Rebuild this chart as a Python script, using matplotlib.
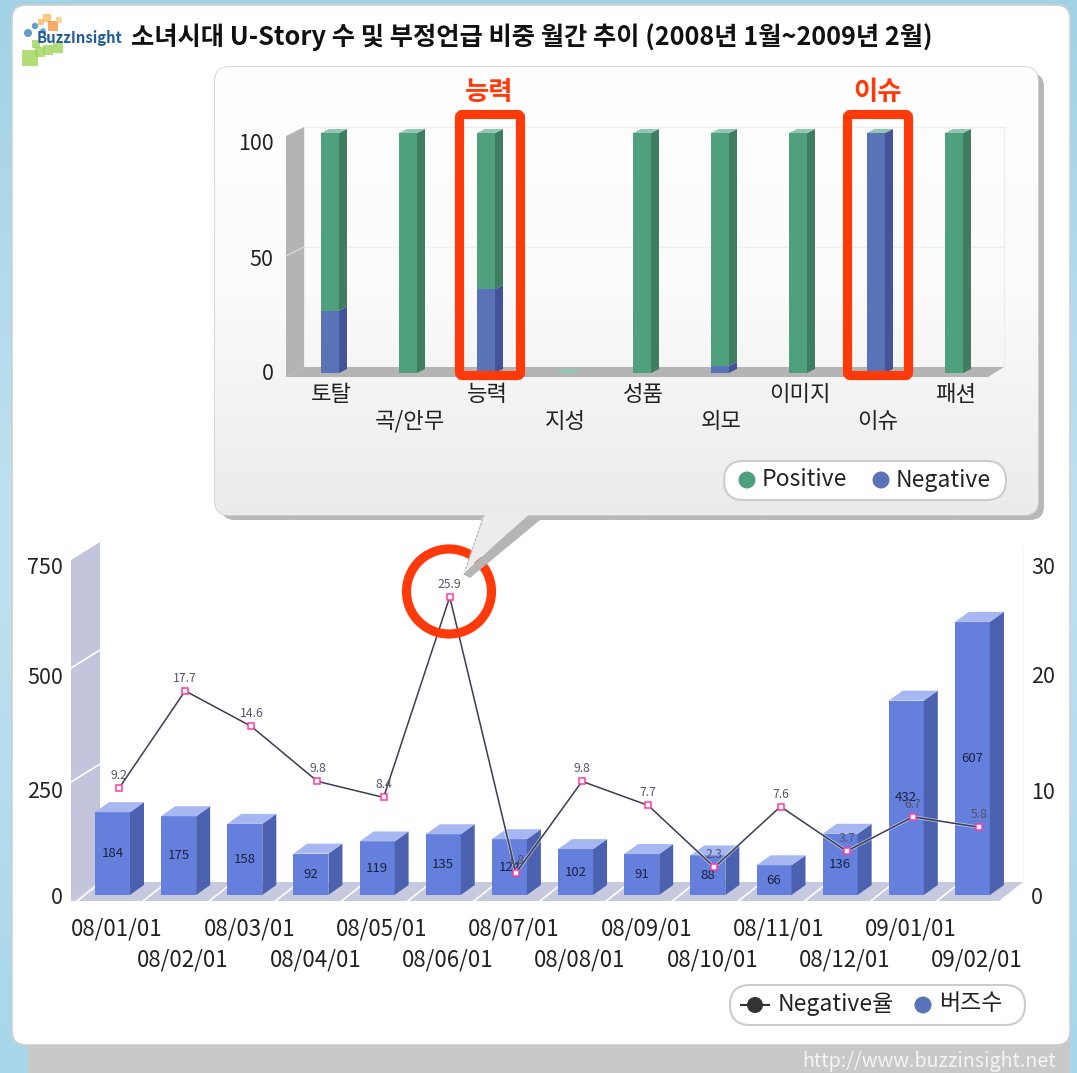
import matplotlib
matplotlib.use('Agg')
import matplotlib.pyplot as plt
import matplotlib.transforms as mtransforms
from matplotlib.patches import Circle, FancyBboxPatch, Polygon, Rectangle
import numpy as np

plt.rcParams['font.family'] = ['Noto Sans CJK KR', 'DejaVu Sans']

W, H = 1077, 1073

TITLE = '소녀시대 U-Story 수 및 부정언급 비중 월간 추이 (2008년 1월~2009년 2월)'

# upper chart
topics = ['토탈', '곡/안무', '능력', '지성', '성품', '외모', '이미지', '이슈', '패션']
negative_share = [26, 0, 35, 0, 0, 3, 0, 100, 0]
positive_share = [74, 100, 65, 0, 100, 97, 100, 0, 100]
share_ticks = [0, 50, 100]

# lower chart
months = ['08/01/01', '08/02/01', '08/03/01', '08/04/01', '08/05/01', '08/06/01', '08/07/01',
          '08/08/01', '08/09/01', '08/10/01', '08/11/01', '08/12/01', '09/01/01', '09/02/01']
buzz_count = [184, 175, 158, 92, 119, 135, 124, 102, 91, 88, 66, 136, 432, 607]
negative_rate = [9.2, 17.7, 14.6, 9.8, 8.4, 25.9, 1.8, 9.8, 7.7, 2.3, 7.6, 3.7, 6.7, 5.8]
buzz_ticks = [0, 250, 500, 750]
rate_ticks = [0, 10, 20, 30]

GREEN, GREEN_SIDE, GREEN_TOP = '#4fa07d', '#3f7d60', '#93c8b0'
BLUE, BLUE_SIDE, BLUE_TOP = '#5a72b8', '#44549a', '#8c9cd4'
BAR, BAR_SIDE, BAR_TOP = '#647fdc', '#4c62b0', '#a6b7f2'
RED = '#ff3a0a'
INK = '#222222'


def px_axes(z):
    ax = fig.add_axes([0, 0, 1, 1], zorder=z)
    ax.set_xlim(0, W)
    ax.set_ylim(H, 0)
    ax.axis('off')
    return ax


def data_axes(left, right, bottom, top, z):
    ax = fig.add_axes([left / W, 1 - bottom / H, (right - left) / W, (bottom - top) / H], zorder=z)
    ax.patch.set_visible(False)
    for s in ax.spines.values():
        s.set_visible(False)
    return ax


def shift_labels(ax_labels, offsets):
    # the original tick labels do not sit exactly on their ticks
    for lab, dy in zip(ax_labels, offsets):
        lab.set_transform(lab.get_transform() + mtransforms.ScaledTranslation(0, -dy / 100, fig.dpi_scale_trans))


def stagger_ticks(ax, pad_first, pad_second):
    for i, tick in enumerate(ax.xaxis.get_major_ticks()):
        tick.set_pad(pad_first if i % 2 == 0 else pad_second)


def bars_3d(ax, xs, bottoms, heights, width, dx, dy, front, side, top, z=3):
    ax.bar(xs, heights, width, bottom=bottoms, color=front, zorder=z)
    for x, b, h in zip(xs, bottoms, heights):
        r = x + width / 2
        ax.add_patch(Polygon([(r, b), (r + dx, b + dy), (r + dx, b + h + dy), (r, b + h)],
                             color=side, lw=0, zorder=z, clip_on=False))
        ax.add_patch(Polygon([(r - width, b + h), (r, b + h), (r + dx, b + h + dy), (r - width + dx, b + h + dy)],
                             color=top, lw=0, zorder=z, clip_on=False))


def pill(ax, x0, y0, x1, y1):
    r = (y1 - y0) / 2
    ax.add_patch(FancyBboxPatch((x0, y0), x1 - x0, y1 - y0,
                                boxstyle=f'round,pad=0,rounding_size={r}',
                                fc='white', ec='#cccccc', lw=1.5, zorder=6))


fig = plt.figure(figsize=(W / 100, H / 100), dpi=100)

# page background, white card and grey footer
bg = px_axes(0)
grad = np.linspace(0, 1, 256).reshape(-1, 1)
bg.imshow(grad, extent=(0, W, H, 0), aspect='auto', zorder=0,
          cmap=matplotlib.colors.LinearSegmentedColormap.from_list('bg', ['#a3d2e6', '#bfe2f0', '#a8d6ea']))
bg.set_xlim(0, W)
bg.set_ylim(H, 0)
bg.add_patch(Rectangle((28, 1030), 1042, 43, fc='#c9c9c9', lw=0, zorder=1))
bg.add_patch(FancyBboxPatch((24, 17), 1034, 1016, boxstyle='round,pad=12,rounding_size=14',
                            fc='white', ec='#d0d0d0', lw=1.2, zorder=2))
bg.text(1056, 1061, 'http://www.buzzinsight.net', color='#f4f4f4', fontsize=14.2,
        ha='right', va='center', zorder=3)

# logo
bg.scatter([28, 35, 43], [33, 26, 31], s=[34, 22, 16], c='#2f7fb5', lw=0, zorder=3, alpha=0.75)
bg.scatter([41, 47, 53, 59], [22, 18, 26, 20], s=[25, 40, 50, 20], c=['#f7b04a', '#f7b04a', '#f58a2a', '#f9c77a'],
           lw=0, zorder=3, marker='s', alpha=0.7)
bg.scatter([30, 40, 48, 58, 36], [58, 52, 50, 48, 44], s=[130, 60, 50, 50, 40], c='#9ed65a', lw=0, zorder=3,
           marker='s', alpha=0.8)
bg.text(37, 38, 'BuzzInsight', color='#1f5f96', fontsize=10.7, fontweight='bold', va='center', zorder=4)
bg.text(131, 37, TITLE, color='#111111', fontsize=18.2, fontweight='bold', va='center', zorder=4)

# lower chart: wall and floor are drawn in pixels behind the axes
bg.add_patch(Polygon([(71, 901), (71, 560), (100, 542), (100, 882)], fc='#c2c5dc', lw=0, zorder=3))
bg.add_patch(Polygon([(71, 901), (999, 901), (1023, 882), (100, 882)], fc='#c7c9de', lw=0, zorder=3))
for yy in [790, 676]:
    bg.plot([71, 100], [yy - 8, yy - 26], color='white', lw=1.2, zorder=4)
for i in range(15):
    x0 = 79 + 66.15 * i
    bg.plot([x0 - 2, x0 + 22], [901, 882], color='white', lw=1.2, zorder=4)
bg.plot([1023, 1023], [882, 545], color='#f7f7fc', lw=0.8, zorder=3)

# lower chart bars
STEP = 66.15
CENTER0 = 112.5
L_LEFT, L_RIGHT = 71, 1023
xlim_low = ((L_LEFT - CENTER0) / STEP, (L_RIGHT - CENTER0) / STEP)
xs_low = np.arange(len(months))

ax_bar = data_axes(L_LEFT, L_RIGHT, 895, 557.5, 1)
ax_bar.set_xlim(*xlim_low)
ax_bar.set_ylim(0, 750)
bars_3d(ax_bar, xs_low, [0] * len(buzz_count), buzz_count, 35 / STEP, 14 / STEP, 10 / 0.45, BAR, BAR_SIDE, BAR_TOP)
for x, v in zip(xs_low, buzz_count):
    ax_bar.text(x, v / 2, str(v), ha='center', va='center', fontsize=9.5, color='#1c2240', zorder=5)
ax_bar.set_xticks(xs_low + 4.5 / STEP)
ax_bar.set_xticklabels(months, fontsize=16, color=INK)
ax_bar.tick_params(axis='x', length=0)
stagger_ticks(ax_bar, 16.3, 38.6)
ax_bar.set_yticks(buzz_ticks)
ax_bar.set_yticklabels([str(t) for t in buzz_ticks], fontsize=15.5, color=INK)
ax_bar.tick_params(axis='y', length=0, pad=6)
shift_labels(ax_bar.get_yticklabels(), [0, 7.5, 5, 7.5])

# negative rate line on its own scale
ax_rate = data_axes(L_LEFT, L_RIGHT, 893.6, 550, 2)
ax_rate.set_xlim(*xlim_low)
ax_rate.set_ylim(0, 30)
ax_rate.set_xticks([])
ax_rate.yaxis.tick_right()
ax_rate.set_yticks(rate_ticks)
ax_rate.set_yticklabels([str(t) for t in rate_ticks], fontsize=15.5, color=INK)
ax_rate.tick_params(axis='y', length=0, pad=6)
shift_labels(ax_rate.get_yticklabels(), [1.4, 11, 10, 15])
xs_line = xs_low + 6.5 / STEP
ax_rate.plot(xs_line, negative_rate, color='#ffffff', lw=2.4, alpha=0.5, zorder=3)
ax_rate.plot(xs_line, negative_rate, color='#3c3c50', lw=1.1, zorder=4)
ax_rate.plot(xs_line, negative_rate, ls='none', marker='s', ms=4.2, mfc='white', mec='#ff3aa0', mew=1.1, zorder=5)
for x, v in zip(xs_line, negative_rate):
    ax_rate.annotate(f'{v:.1f}', (x, v), xytext=(0, 9), textcoords='offset points', ha='center', va='center',
                     fontsize=8.8, color='#55556a', zorder=6)

# legend of lower chart
front = px_axes(6)
pill(front, 730, 985, 1025, 1025)
front.plot([741, 769], [1005, 1005], color='#333333', lw=1.5, zorder=7)
front.add_patch(Circle((755, 1005), 8, fc='#333333', lw=0, zorder=7))
front.text(778, 1004, 'Negative율', fontsize=16.5, color=INK, va='center', zorder=7)
front.add_patch(Circle((923, 1005), 8.5, fc=BLUE, lw=0, zorder=7))
front.text(939, 1004, '버즈수', fontsize=16.5, color=INK, va='center', zorder=7)

# red ring around the 25.9 peak
front.add_patch(Circle((449, 591.5), 42.5, fc='none', ec=RED, lw=6.6, zorder=7))

# callout panel
panel = px_axes(7)
panel.add_patch(Polygon([(530, 512), (540, 520), (470, 578), (463, 574)], fc='#b5b5b5', lw=0, zorder=1))
panel.add_patch(FancyBboxPatch((235, 87), 795, 419, boxstyle='round,pad=14,rounding_size=14',
                               fc='#b8b8b8', ec='none', zorder=1))
panel_box = FancyBboxPatch((229, 81), 795, 420, boxstyle='round,pad=14,rounding_size=14',
                           fc='white', ec='#cfcfcf', lw=1.2, zorder=2)
panel.add_patch(panel_box)
shade = panel.imshow(np.linspace(0, 1, 256).reshape(-1, 1), extent=(215, 1038, 515, 67), aspect='auto', zorder=3,
                     cmap=matplotlib.colors.LinearSegmentedColormap.from_list('p', ['#ffffff', '#fbfbfb', '#ebebeb']))
shade.set_clip_path(panel_box)
panel.set_xlim(0, W)
panel.set_ylim(H, 0)
panel.add_patch(Polygon([(484, 512), (532, 512), (465, 571)], fc='#ececec', lw=0, zorder=4))
panel.plot([484, 465], [515, 571], color='#bbbbbb', lw=1, ls=(0, (2, 1)), zorder=4)

# upper chart wall, floor and grid
panel.add_patch(Rectangle((304, 127), 700, 240, fc='none', ec='#eeeeee', lw=1, zorder=4))
panel.plot([304, 1004], [247, 247], color='#ededed', lw=1, zorder=4)
panel.add_patch(Polygon([(286, 377), (286, 136), (304, 127), (304, 367)], fc='#b4b4b4', lw=0, zorder=4))
panel.add_patch(Polygon([(286, 377), (988, 377), (1004, 367), (304, 367)], fc='#b4b4b4', lw=0, zorder=4))
panel.plot([286, 304], [256, 247], color='#d8d8d8', lw=1, zorder=5)

# upper chart bars
STEP_UP = 78
CENTER_UP = 330
U_LEFT, U_RIGHT = 286, 1004
xs_up = np.arange(len(topics))
ax_up = data_axes(U_LEFT, U_RIGHT, 373, 133, 8)
ax_up.set_xlim((U_LEFT - CENTER_UP) / STEP_UP, (U_RIGHT - CENTER_UP) / STEP_UP)
ax_up.set_ylim(0, 100)
w_up, dx_up, dy_up = 18 / STEP_UP, 8 / STEP_UP, 4 / 2.4
neg_keep = [i for i, v in enumerate(negative_share) if v > 0]
bars_3d(ax_up, xs_up[neg_keep], [0] * len(neg_keep), [negative_share[i] for i in neg_keep],
        w_up, dx_up, dy_up, BLUE, BLUE_SIDE, BLUE_TOP, z=3)
bars_3d(ax_up, xs_up, negative_share, positive_share, w_up, dx_up, dy_up, GREEN, GREEN_SIDE, GREEN_TOP, z=4)
ax_up.set_xticks(xs_up + 1.5 / STEP_UP)
ax_up.set_xticklabels(topics, fontsize=16, color=INK)
ax_up.tick_params(axis='x', length=0)
stagger_ticks(ax_up, 7.5, 26.5)
ax_up.set_yticks(share_ticks)
ax_up.set_yticklabels([str(t) for t in share_ticks], fontsize=15.5, color=INK)
ax_up.tick_params(axis='y', length=0, pad=9)
shift_labels(ax_up.get_yticklabels(), [-1, 5, 9])

# highlights and legend of upper chart
over = px_axes(9)
for x0, name in [(459.5, '능력'), (847.5, '이슈')]:
    over.add_patch(FancyBboxPatch((x0, 114.5), 61, 261, boxstyle='round,pad=0,rounding_size=3',
                                  fc='none', ec=RED, lw=6.6, zorder=3))
    over.text(x0 + 30, 93, name, color=RED, fontsize=19, fontweight='bold', ha='center', va='center', zorder=3)
pill(over, 724, 461, 1006, 500)
over.add_patch(Circle((747, 480), 8.5, fc=GREEN, lw=0, zorder=7))
over.text(762, 480, 'Positive', fontsize=16.5, color=INK, va='center', zorder=7)
over.add_patch(Circle((881, 480), 8.5, fc=BLUE, lw=0, zorder=7))
over.text(896, 480, 'Negative', fontsize=16.5, color=INK, va='center', zorder=7)

fig.savefig('out.png', dpi=100)
